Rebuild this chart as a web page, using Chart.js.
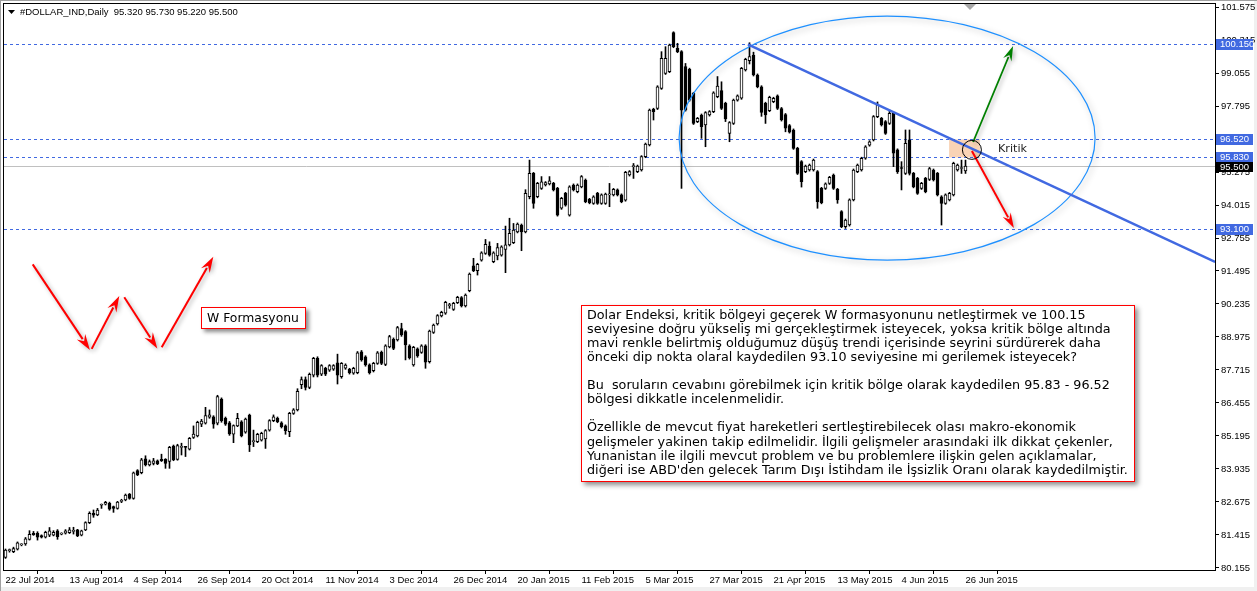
<!DOCTYPE html>
<html><head><meta charset="utf-8">
<script src="https://cdn.jsdelivr.net/npm/chart.js@4.4.0/dist/chart.umd.min.js"></script>
<style>html,body{margin:0;padding:0;background:#fff;}canvas{display:block;}</style>
</head><body>
<canvas id="c" width="1257" height="591"></canvas>
<script>
// ---- DATA ----
const xTickBars = [0,16,32,48,64,80,96,112,128,144,160,176,192,208,224,240];
const xTickLabels = ['22 Jul 2014','13 Aug 2014','4 Sep 2014','26 Sep 2014','20 Oct 2014','11 Nov 2014','3 Dec 2014','26 Dec 2014','20 Jan 2015','11 Feb 2015','5 Mar 2015','27 Mar 2015','21 Apr 2015','13 May 2015','4 Jun 2015','26 Jun 2015'];
const yTickLabels = ['80.155','81.415','82.675','83.935','85.195','86.455','87.715','88.975','90.235','91.495','92.755','94.015','95.275','96.535','97.795','99.055','100.315','101.575'];
const levelLines = [100.150, 96.520, 95.830, 93.100];
const bidLevel = 95.500;
const opens = [80.56,80.82,80.78,80.87,81.04,81.07,81.25,81.48,81.48,81.39,
81.33,81.41,81.41,81.57,81.45,81.48,81.50,81.55,81.61,81.41,
81.61,81.89,82.24,82.18,82.55,82.59,82.62,82.50,82.43,82.70,
82.75,82.98,82.81,83.87,83.79,84.32,84.09,84.15,84.25,84.30,
84.30,84.22,84.81,84.30,84.76,84.77,84.69,85.14,85.20,85.65,
85.68,85.91,85.93,85.68,86.60,85.87,85.70,85.26,85.58,85.74,
85.34,85.99,84.98,84.98,85.04,85.08,85.42,85.78,85.87,85.70,
85.58,85.36,86.06,86.19,87.15,87.35,87.05,87.52,88.16,87.56,
87.78,87.71,87.75,87.99,87.46,87.78,87.74,87.59,87.61,88.41,
88.22,87.91,87.69,87.97,88.39,87.93,88.60,88.89,88.86,89.30,
89.18,88.64,87.91,88.52,88.39,88.64,88.03,89.15,89.47,89.78,
89.88,90.17,90.03,90.29,90.48,90.16,90.74,91.69,91.51,91.91,
92.17,92.45,91.85,92.07,92.10,92.32,92.49,92.58,92.99,93.25,
92.99,94.33,95.22,94.33,94.65,94.78,94.82,94.84,94.65,93.89,
94.46,93.63,94.78,94.52,94.71,94.97,94.23,94.08,94.46,94.08,
94.08,94.40,94.40,94.59,94.40,94.20,95.16,95.48,95.29,95.35,
95.86,96.31,97.67,97.70,98.47,99.04,99.11,100.60,100.00,99.87,
99.30,99.20,98.28,97.20,97.45,97.07,97.45,97.58,98.15,98.38,
97.90,96.75,97.13,98.02,98.09,99.17,99.53,99.74,98.98,98.53,
97.90,97.62,97.96,98.18,97.70,97.47,97.05,96.88,96.18,95.67,
95.29,95.35,95.35,95.29,94.65,94.65,94.84,95.16,94.61,93.76,
93.19,93.25,94.21,95.29,95.35,95.80,96.30,96.50,97.39,97.32,
97.20,97.13,97.52,96.12,95.42,95.22,96.50,95.22,95.03,94.65,
95.03,94.99,95.35,95.22,94.33,94.08,94.21,94.40,95.35,95.41,
95.32];
const highs = [80.88,80.88,80.95,81.15,81.08,81.32,81.58,81.55,81.54,81.42,
81.56,81.70,81.58,81.62,81.50,81.62,81.70,81.71,81.63,81.60,
81.92,82.30,82.37,82.43,82.60,82.70,82.67,82.52,82.70,82.78,
82.98,83.00,83.82,83.91,84.34,84.44,84.28,84.34,84.28,84.50,
84.33,84.80,84.85,84.88,84.92,84.80,85.14,85.58,85.76,85.83,
86.29,86.19,85.97,86.75,86.65,85.92,85.75,85.62,86.06,85.78,
85.88,86.03,85.42,85.30,85.34,85.44,85.82,86.00,85.92,85.74,
85.62,86.10,86.24,87.00,87.45,87.45,87.60,88.20,88.22,87.92,
87.82,87.92,87.92,88.32,88.00,87.95,87.78,87.82,88.42,88.46,
88.26,87.95,88.01,88.42,88.44,88.68,89.04,88.94,89.38,89.50,
89.22,88.68,88.62,88.56,88.68,88.68,89.24,89.47,89.83,89.96,
90.34,90.26,90.30,90.53,90.52,90.62,91.42,91.98,91.79,92.23,
92.70,92.61,92.23,92.55,92.46,93.21,93.51,93.31,93.33,93.29,
94.60,95.73,95.26,94.88,95.10,94.91,95.10,94.88,94.69,94.31,
94.50,94.75,94.82,94.82,95.14,95.01,94.27,94.37,94.50,94.44,
94.47,94.84,94.65,94.63,94.44,95.30,95.33,95.60,95.54,95.90,
96.38,97.68,97.71,98.57,99.87,100.06,100.16,100.63,100.19,99.91,
99.42,99.24,98.32,97.36,97.49,97.58,97.62,98.34,98.92,98.72,
97.94,97.20,98.06,98.22,99.27,99.62,100.21,99.85,99.02,98.57,
97.94,98.17,98.13,98.22,97.74,97.51,97.09,96.92,96.22,95.71,
95.54,95.58,95.77,95.33,94.69,94.86,95.11,95.20,94.65,93.80,
93.48,94.25,95.39,95.58,95.84,96.28,96.47,97.43,97.95,97.36,
97.24,97.64,97.56,96.16,95.67,96.88,96.88,95.26,95.07,94.88,
95.07,95.45,95.39,95.26,94.37,94.44,94.50,95.65,95.58,95.73,
95.73];
const lows = [80.52,80.76,80.74,80.84,81.00,81.02,81.22,81.40,81.22,81.30,
81.30,81.35,81.38,81.25,81.42,81.45,81.47,81.45,81.35,81.38,
81.58,81.85,82.09,82.15,82.43,82.56,82.36,82.28,82.40,82.65,
82.72,82.78,82.78,83.68,83.75,84.05,84.05,84.09,84.10,84.22,
83.96,83.96,84.25,84.27,84.47,84.41,84.66,85.10,85.16,85.55,
85.65,85.87,85.49,85.62,85.72,85.60,85.22,84.94,85.55,85.16,
85.30,84.60,84.79,84.94,85.00,84.72,85.38,85.74,85.70,85.50,
85.26,85.17,86.02,86.15,87.00,86.95,87.00,87.45,87.45,87.50,
87.50,87.66,87.70,87.18,87.40,87.74,87.56,87.55,87.57,88.05,
87.86,87.56,87.64,87.93,87.92,87.88,88.56,88.49,88.82,89.00,
88.10,88.13,87.86,88.20,88.35,87.78,87.98,89.11,89.43,89.74,
89.84,90.07,89.99,90.25,90.12,90.12,90.70,91.47,91.34,91.87,
92.13,92.06,91.81,91.92,92.06,91.43,92.45,92.54,92.95,92.27,
92.95,94.25,93.89,94.29,94.61,94.74,94.78,94.55,93.59,93.85,
93.97,93.59,94.55,94.48,94.67,94.10,94.06,94.04,94.04,94.04,
94.04,93.95,94.36,94.36,94.10,94.16,95.12,95.03,95.25,95.31,
95.82,96.27,97.26,97.66,98.43,99.00,99.07,100.02,99.83,94.65,
97.60,97.98,97.09,97.16,96.56,96.24,97.41,97.54,98.11,97.66,
97.20,96.43,97.09,97.98,98.05,99.13,99.40,98.94,98.49,97.40,
97.13,97.58,97.92,97.66,97.22,96.81,96.76,96.14,95.18,94.70,
95.25,95.31,95.31,93.89,94.06,94.61,94.80,94.61,94.08,93.15,
93.12,93.21,94.17,95.25,95.31,95.76,96.26,96.46,97.35,97.03,
96.71,97.09,95.48,95.22,94.59,95.18,95.16,94.67,94.42,94.61,
94.48,94.95,94.93,94.36,93.25,94.04,94.17,94.36,95.31,95.22,
95.22];
const closes = [80.84,80.83,80.90,81.12,81.06,81.27,81.44,81.43,81.33,81.33,
81.52,81.57,81.52,81.35,81.48,81.57,81.61,81.56,81.38,81.57,
81.89,82.24,82.17,82.37,82.56,82.66,82.40,82.43,82.67,82.72,
82.94,82.81,83.79,83.71,84.28,84.09,84.22,84.25,84.13,84.25,
84.15,84.76,84.28,84.83,84.77,84.76,85.11,85.27,85.72,85.76,
85.97,86.00,85.65,86.70,85.78,85.65,85.27,85.59,85.87,85.20,
85.84,84.85,84.99,85.26,85.30,85.40,85.78,85.93,85.74,85.55,
85.40,86.06,86.19,86.90,87.35,87.05,87.55,88.16,87.52,87.88,
87.56,87.88,87.88,87.52,87.97,87.90,87.61,87.78,88.37,88.10,
87.91,87.61,87.97,88.37,87.97,88.64,88.99,88.54,89.33,89.05,
88.67,88.18,88.58,88.25,88.64,88.01,89.20,89.43,89.79,89.92,
90.30,90.18,90.26,90.49,90.16,90.58,91.38,91.51,91.75,92.19,
92.51,92.10,92.19,92.39,92.42,92.49,92.93,93.06,93.29,92.99,
94.46,95.22,94.08,94.84,94.90,94.87,94.94,94.59,93.63,94.27,
94.01,94.71,94.59,94.78,95.10,94.14,94.10,94.33,94.08,94.40,
94.43,94.41,94.61,94.40,94.14,95.26,95.29,95.49,95.50,95.86,
96.34,97.64,97.58,98.53,99.62,99.62,100.12,100.06,99.87,97.64,
97.64,98.02,97.13,97.32,97.01,97.54,97.58,98.30,98.56,97.70,
97.30,97.16,98.02,98.18,99.23,99.58,99.68,98.98,98.53,97.55,
97.45,98.13,98.09,97.70,97.26,96.95,96.80,96.18,95.22,94.91,
95.50,95.54,95.73,94.14,94.10,94.82,95.07,94.65,94.21,93.19,
93.44,94.21,95.35,95.54,95.80,96.24,96.43,97.39,97.83,97.07,
96.75,97.52,95.99,95.29,95.41,96.37,95.22,94.71,94.46,94.84,
94.52,95.41,94.97,94.40,94.08,94.40,94.46,95.61,95.54,95.42,
95.50];

const titleText = '#DOLLAR_IND,Daily  95.320 95.730 95.220 95.500';
const noteLines = [
 'Dolar Endeksi, kritik bölgeyi geçerek W formasyonunu netleştirmek ve 100.15',
 'seviyesine doğru yükseliş mi gerçekleştirmek isteyecek, yoksa kritik bölge altında',
 'mavi renkle belirtmiş olduğumuz düşüş trendi içerisinde seyrini sürdürerek daha',
 'önceki dip nokta olaral kaydedilen 93.10 seviyesine mi gerilemek isteyecek?',
 '',
 'Bu  soruların cevabını görebilmek için kritik bölge olarak kaydedilen 95.83 - 96.52',
 'bölgesi dikkatle incelenmelidir.',
 '',
 'Özellikle de mevcut fiyat hareketleri sertleştirebilecek olası makro-ekonomik',
 'gelişmeler yakinen takip edilmelidir. İlgili gelişmeler arasındaki ilk dikkat çekenler,',
 'Yunanistan ile ilgili mevcut problem ve bu problemlere ilişkin gelen açıklamalar,',
 'diğeri ise ABD\'den gelecek Tarım Dışı İstihdam ile İşsizlik Oranı olarak kaydedilmiştir.'
];

// ---- build library structures ----
const wickData = opens.map((o, i) => ({x: i, y: [lows[i], highs[i]]}));
const bodyData = opens.map((o, i) => ({x: i, y: [o, closes[i]]}));
const bodyFill = opens.map((o, i) => closes[i] >= o ? '#ffffff' : '#000000');

const AXF = "'Liberation Sans', Arial, sans-serif";
const TXF = "'DejaVu Sans', Verdana, sans-serif";

function fitSize(ctx, text, family, targetW, base) {
  ctx.font = base + 'px ' + family;
  return base * targetW / ctx.measureText(text).width;
}
function arrow(ctx, x1, y1, x2, y2, color, lw, hl, hw) {
  const a = Math.atan2(y2 - y1, x2 - x1), c = Math.cos(a), s = Math.sin(a);
  const bx = x2 - hl * c, by = y2 - hl * s;
  ctx.strokeStyle = color; ctx.fillStyle = color; ctx.lineWidth = lw;
  ctx.beginPath(); ctx.moveTo(x1, y1); ctx.lineTo(bx + 3 * c, by + 3 * s); ctx.stroke();
  ctx.beginPath(); ctx.moveTo(x2, y2);
  ctx.lineTo(bx + hw * s, by - hw * c);
  ctx.lineTo(bx + hl * 0.35 * c, by + hl * 0.35 * s);
  ctx.lineTo(bx - hw * s, by + hw * c);
  ctx.closePath(); ctx.fill();
}

const decor = {
  id: 'decor',
  beforeDraw(chart) {
    const ctx = chart.ctx, W = chart.width, H = chart.height;
    ctx.save();
    ctx.fillStyle = '#ffffff'; ctx.fillRect(0, 0, W, H);
    ctx.fillStyle = '#f0f0f0';
    ctx.fillRect(0, H - 4, W, 4); ctx.fillRect(W - 3, 0, 3, H);
    ctx.fillStyle = '#a0a0a0'; ctx.fillRect(0, 0, W, 1); ctx.fillRect(0, 0, 1, H);
    ctx.restore();
  },
  beforeDatasetsDraw(chart) {
    const ctx = chart.ctx, xs = chart.scales.x, ys = chart.scales.y, ca = chart.chartArea;
    ctx.save();
    ctx.beginPath(); ctx.rect(ca.left, ca.top, ca.right - ca.left, ca.bottom - ca.top); ctx.clip();
    const rx1 = xs.getPixelForValue(235.9), rx2 = xs.getPixelForValue(243.6);
    const ry1 = ys.getPixelForValue(96.52), ry2 = ys.getPixelForValue(95.83);
    ctx.fillStyle = '#f9d3b5'; ctx.fillRect(rx1, ry1, rx2 - rx1, ry2 - ry1);
    const by = Math.round(ys.getPixelForValue(bidLevel)) + 0.5;
    ctx.strokeStyle = '#c0c0c0'; ctx.lineWidth = 1;
    ctx.beginPath(); ctx.moveTo(ca.left, by); ctx.lineTo(ca.right, by); ctx.stroke();
    ctx.strokeStyle = '#4169e1'; ctx.setLineDash([3, 3]);
    levelLines.forEach(v => {
      const y = Math.round(ys.getPixelForValue(v)) + 0.5;
      ctx.beginPath(); ctx.moveTo(ca.left, y); ctx.lineTo(ca.right, y); ctx.stroke();
    });
    ctx.restore();
  },
  afterDraw(chart) {
    const ctx = chart.ctx, xs = chart.scales.x, ys = chart.scales.y, ca = chart.chartArea;
    const P = (i, v) => [xs.getPixelForValue(i), ys.getPixelForValue(v)];
    ctx.save();
    ctx.strokeStyle = '#000'; ctx.lineWidth = 1;
    ctx.strokeRect(ca.left - 0.5, ca.top - 0.5, ca.right - ca.left + 1, ca.bottom - ca.top + 1);
    ctx.fillStyle = '#a8a8a8';
    ctx.beginPath(); ctx.moveTo(964, 4); ctx.lineTo(976, 4); ctx.lineTo(970, 10); ctx.closePath(); ctx.fill();
    ctx.fillStyle = '#000';
    ctx.beginPath(); ctx.moveTo(8, 10); ctx.lineTo(15, 10); ctx.lineTo(11.5, 14); ctx.closePath(); ctx.fill();
    const ts = fitSize(ctx, titleText, AXF, 218, 10);
    ctx.font = ts + 'px ' + AXF; ctx.textBaseline = 'middle'; ctx.textAlign = 'left';
    ctx.fillText(titleText, 20, 12.5);

    ctx.save();
    ctx.beginPath(); ctx.rect(ca.left, ca.top, ca.right - ca.left, ca.bottom - ca.top); ctx.clip();
    const [ecx, ecy] = P(220.4, 96.57);
    const erx = xs.getPixelForValue(220.4 + 52) - ecx;
    const ery = ys.getPixelForValue(96.57 - 4.66) - ecy;
    ctx.save();
    ctx.shadowColor = 'rgba(0,0,0,0.30)'; ctx.shadowBlur = 6; ctx.shadowOffsetX = 2; ctx.shadowOffsetY = 2;
    ctx.strokeStyle = '#1e90ff'; ctx.lineWidth = 1.2;
    ctx.beginPath(); ctx.ellipse(ecx, ecy, erx, ery, 0, 0, Math.PI * 2); ctx.stroke();
    ctx.restore();
    const [t1x, t1y] = P(185.6, 100.15), [t2x, t2y] = P(302.4, 91.84);
    ctx.strokeStyle = '#4169e1'; ctx.lineWidth = 2.5;
    ctx.beginPath(); ctx.moveTo(t1x, t1y); ctx.lineTo(t2x, t2y); ctx.stroke();
    ctx.save();
    ctx.shadowColor = 'rgba(0,0,0,0.30)'; ctx.shadowBlur = 4; ctx.shadowOffsetX = 2; ctx.shadowOffsetY = 2;
    let a = P(241.9, 96.42), b = P(251.9, 100.09);
    arrow(ctx, a[0], a[1], b[0], b[1], '#008000', 1.8, 15, 4.5);
    a = P(241.6, 96.08); b = P(252.1, 93.14);
    arrow(ctx, a[0], a[1], b[0], b[1], '#ff0000', 2, 15, 4.5);
    const wArrows = [[6.8, 91.75, 21.1, 88.48], [21.55, 88.52, 28.45, 90.54], [29.7, 90.49, 37.95, 88.54], [39.05, 88.58, 51.95, 92.04]];
    wArrows.forEach(w => { const p = P(w[0], w[1]), q = P(w[2], w[3]); arrow(ctx, p[0], p[1], q[0], q[1], '#ff0000', 2, 16, 5); });
    ctx.restore();
    const [ccx, ccy] = P(241.6, 96.12);
    ctx.strokeStyle = '#000'; ctx.lineWidth = 1;
    ctx.beginPath(); ctx.arc(ccx, ccy, 9.5, 0, Math.PI * 2); ctx.stroke();
    ctx.restore();

    ctx.fillStyle = '#222';
    const ks = fitSize(ctx, 'Kritik', TXF, 29, 12);
    ctx.font = ks + 'px ' + TXF; ctx.textBaseline = 'middle';
    ctx.fillText('Kritik', 998, 149);

    ctx.save();
    ctx.shadowColor = 'rgba(0,0,0,0.45)'; ctx.shadowBlur = 4; ctx.shadowOffsetX = 3; ctx.shadowOffsetY = 3;
    ctx.fillStyle = '#fff'; ctx.fillRect(201, 307, 105, 22);
    ctx.restore();
    ctx.strokeStyle = '#ff0000'; ctx.lineWidth = 1; ctx.strokeRect(201.5, 307.5, 104, 21);
    ctx.fillStyle = '#000';
    const ws = fitSize(ctx, 'W Formasyonu', TXF, 92, 12);
    ctx.font = ws + 'px ' + TXF; ctx.fillText('W Formasyonu', 207, 318.5);

    ctx.save();
    ctx.shadowColor = 'rgba(0,0,0,0.45)'; ctx.shadowBlur = 5; ctx.shadowOffsetX = 3; ctx.shadowOffsetY = 3;
    ctx.fillStyle = '#fff'; ctx.fillRect(581, 305, 554, 177);
    ctx.restore();
    ctx.strokeStyle = '#ff0000'; ctx.strokeRect(581.5, 305.5, 553, 176);
    ctx.fillStyle = '#000';
    const ns = fitSize(ctx, noteLines[0], TXF, 499, 12);
    ctx.font = ns + 'px ' + TXF;
    noteLines.forEach((t, k) => { if (t) ctx.fillText(t, 587, 315.3 + k * 14.1); });

    ctx.font = '9.5px ' + AXF; ctx.textBaseline = 'middle';
    levelLines.forEach(v => {
      const y = Math.round(ys.getPixelForValue(v));
      ctx.fillStyle = '#4169e1'; ctx.fillRect(ca.right + 1, y - 5, 37, 11);
      ctx.fillStyle = '#fff'; ctx.fillText(v.toFixed(3), ca.right + 5, y + 0.5);
    });
    const yb = Math.round(ys.getPixelForValue(bidLevel));
    ctx.fillStyle = '#000'; ctx.fillRect(ca.right + 1, yb - 4, 37, 10);
    ctx.fillStyle = '#fff'; ctx.fillText(bidLevel.toFixed(3), ca.right + 5, yb + 1);
    ctx.restore();
  }
};

new Chart(document.getElementById('c'), {
  type: 'bar',
  data: {
    datasets: [
      {data: bodyData, backgroundColor: bodyFill, borderColor: '#000', borderWidth: 1, borderSkipped: false,
       barThickness: 3, minBarLength: 1, grouped: false, order: 0},
      {data: wickData, backgroundColor: '#000', borderWidth: 0, barThickness: 1, grouped: false, order: 1}
    ]
  },
  options: {
    responsive: false, animation: false, devicePixelRatio: 1,
    layout: {padding: {left: 4, top: 4, right: 0, bottom: 0}},
    plugins: {legend: {display: false}, tooltip: {enabled: false}},
    scales: {
      x: {
        type: 'linear', min: -0.375, max: 302.375, offset: false,
        border: {display: false},
        grid: {drawOnChartArea: false, drawTicks: true, tickLength: 4, color: '#000'},
        ticks: {align: 'start', padding: 1, maxRotation: 0, autoSkip: false, color: '#000',
                font: {family: AXF, size: 9.5},
                callback: v => { const k = xTickBars.indexOf(v); return k >= 0 ? xTickLabels[k] : ''; }},
        afterBuildTicks: s => { s.ticks = xTickBars.map(v => ({value: v})); },
        afterFit: s => { s.height = 21; s.paddingLeft = 0; s.paddingRight = 0; }
      },
      y: {
        position: 'right', min: 80.078, max: 101.69,
        border: {display: false},
        grid: {drawOnChartArea: false, drawTicks: true, tickLength: 4, color: '#000'},
        ticks: {padding: 2, color: '#000', font: {family: AXF, size: 9.5}, crossAlign: 'near', autoSkip: false,
                callback: v => { const t = yTickLabels.find(s => Math.abs(parseFloat(s) - v) < 1e-6); return t || ''; }},
        afterBuildTicks: s => { s.ticks = yTickLabels.map(t => ({value: parseFloat(t)})); },
        afterFit: s => { s.width = 42; s.paddingTop = 0; s.paddingBottom = 0; }
      }
    }
  },
  plugins: [decor]
});
</script>
</body></html>
